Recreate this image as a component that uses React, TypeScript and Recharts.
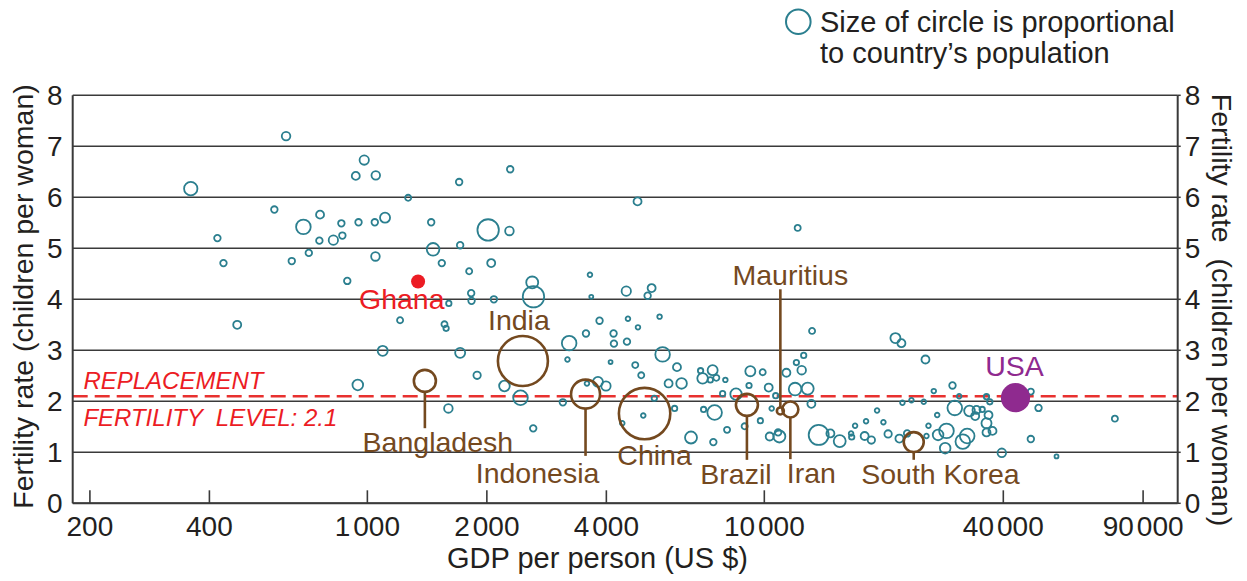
import React from 'react';
import { ScatterChart, Scatter, XAxis, YAxis, ZAxis, CartesianGrid, ReferenceLine } from 'recharts';

const W = 1247;
const H = 581;

// ---- Countries (teal bubbles): GDP per person (US$), fertility rate, population (millions)
const gdpPerPerson = [
  359, 624, 583, 419, 434, 690, 760, 645, 712, 757,
  821, 860, 865, 950, 982, 935, 1050, 1044, 1108, 1048,
  1267, 890, 470, 1209, 1093, 946, 1703, 2290, 4793, 1448,
  2015, 2280, 1464, 1713, 1540, 2051, 1805, 12135, 2602, 2621,
  1826, 1830, 2083, 1604, 3637, 3665, 4490, 5201, 5082, 5447,
  3845, 4534, 4805, 13192, 1564, 1579, 3554, 4171, 4180, 4508,
  3224, 1713, 5543, 3192, 4099, 4730, 6025, 4897, 1890, 2215,
  2431, 3810, 3991, 3574, 5739, 6188, 3108, 5283, 1600, 5943,
  4955, 4387, 2617, 6536, 7440, 6910, 7410, 6991, 7311, 7570,
  7977, 7852, 8487, 9221, 9906, 9151, 10257, 10682, 11366, 12044,
  12566, 12421, 11953, 12861, 13139, 7031, 7496, 8056, 8921, 9775,
  10437, 10317, 10913, 10831, 13708, 14671, 15486, 16542, 16600, 16930,
  17896, 18042, 18606, 19233, 19954, 20506, 21394, 22152, 21896, 22281,
  22898, 23476, 25216, 25466, 25914, 25615, 26725, 27258, 27400, 28770,
  28553, 29788, 30188, 30968, 31622, 32440, 32876, 33982, 34239, 35390,
  36284, 36986, 36708, 36284, 36284, 37568, 39654, 46922, 49066, 46922,
  54462, 76406,
];
const fertilityRate = [
  6.17, 7.2, 5.76, 5.2, 4.71, 5.42, 5.66, 4.75, 4.91, 5.15,
  5.16, 5.49, 5.25, 5.51, 6.73, 6.42, 6.43, 5.51, 5.6, 4.84,
  5.99, 4.36, 3.5, 3.59, 2.99, 2.32, 6.3, 6.55, 5.92, 5.51,
  5.36, 5.34, 4.98, 5.06, 4.71, 4.71, 4.55, 5.4, 4.33, 4.05,
  4.12, 3.97, 4.0, 3.92, 4.48, 4.05, 4.16, 4.22, 4.07, 3.66,
  3.58, 3.62, 3.45, 3.38, 3.51, 3.43, 3.33, 3.33, 3.13, 3.17,
  3.14, 2.95, 2.92, 2.82, 2.77, 2.71, 2.67, 2.51, 2.51, 2.3,
  2.07, 2.38, 2.3, 2.35, 2.35, 2.35, 1.98, 2.06, 1.86, 1.86,
  1.72, 1.57, 1.47, 1.29, 1.2, 2.6, 2.61, 2.45, 2.42, 2.46,
  2.42, 2.15, 2.14, 2.59, 2.57, 2.31, 2.27, 2.11, 2.56, 2.76,
  2.9, 2.61, 2.24, 2.25, 1.95, 1.84, 1.78, 1.44, 1.51, 1.62,
  1.86, 1.31, 1.31, 1.39, 1.34, 1.37, 1.22, 1.37, 1.3, 1.52,
  1.32, 1.61, 1.24, 1.82, 1.59, 1.36, 3.24, 3.14, 1.27, 1.97,
  1.37, 2.02, 1.99, 2.82, 1.52, 1.32, 2.2, 1.73, 1.34, 1.42,
  1.08, 2.31, 1.87, 2.1, 1.21, 1.32, 1.81, 1.71, 1.83, 1.84,
  2.09, 1.99, 1.73, 1.57, 1.39, 1.42, 0.99, 2.19, 1.87, 1.26,
  0.92, 1.66,
];
const populationM = [
  92, 38, 22, 22, 22, 110, 33, 22, 22, 22,
  45, 22, 22, 22, 45, 33, 38, 22, 52, 38,
  19, 22, 33, 19, 52, 58, 22, 22, 33, 22,
  236, 38, 82, 22, 22, 33, 19, 19, 74, 236,
  22, 22, 22, 15, 11, 8, 45, 33, 22, 11,
  22, 11, 11, 19, 19, 15, 22, 22, 22, 22,
  110, 52, 110, 11, 8, 19, 33, 19, 28, 58,
  110, 52, 45, 11, 33, 58, 22, 15, 38, 15,
  11, 11, 22, 74, 22, 15, 52, 58, 15, 19,
  11, 15, 67, 52, 19, 15, 33, 15, 33, 15,
  15, 38, 82, 74, 33, 15, 110, 19, 19, 15,
  11, 33, 74, 22, 206, 33, 74, 11, 15, 11,
  33, 11, 28, 11, 11, 28, 52, 33, 33, 11,
  22, 11, 11, 33, 11, 11, 11, 11, 58, 110,
  58, 22, 110, 11, 110, 110, 58, 33, 33, 15,
  15, 15, 33, 52, 33, 33, 38, 19, 22, 22,
  8, 19,
];

// ---- Highlighted countries
const hlNames = ['India', 'Bangladesh', 'Indonesia', 'China', 'Brazil', 'Iran', 'Mauritius', 'South Korea'];
const hlGdp = [2465, 1396, 3545, 4993, 9040, 11630, 10975, 23790];
const hlFertility = [2.79, 2.4, 2.14, 1.76, 1.93, 1.84, 1.81, 1.2];
const hlPopulationM = [1287, 250, 433, 1360, 250, 132, 25, 206];

const ghanaName = ['Ghana'];
const ghanaGdp = [1342];
const ghanaFertility = [4.35];
const ghanaPopulationM = [101];

const usaName = ['USA'];
const usaGdp = [42930];
const usaFertility = [2.07];
const usaPopulationM = [440];

// ---- Axes
const xTicks = [200, 400, 1000, 2000, 4000, 10000, 40000, 90000];
const xTickLabels = ['200', '400', '1 000', '2 000', '4 000', '10 000', '40 000', '90 000'];
const yTicks = [0, 1, 2, 3, 4, 5, 6, 7, 8];
const replacementLevel = 2.1;

const bubbles = gdpPerPerson.map((g, i) => ({ gdp: g, fert: fertilityRate[i], pop: populationM[i] }));
const highlighted = hlNames.map((n, i) => ({ name: n, gdp: hlGdp[i], fert: hlFertility[i], pop: hlPopulationM[i] }));
const ghana = ghanaName.map((n, i) => ({ name: n, gdp: ghanaGdp[i], fert: ghanaFertility[i], pop: ghanaPopulationM[i] }));
const usa = usaName.map((n, i) => ({ name: n, gdp: usaGdp[i], fert: usaFertility[i], pop: usaPopulationM[i] }));

// ---- Styles
const FONT = '"Liberation Sans", Arial, Helvetica, sans-serif';
const TEAL = '#2b7f8f';
const BROWN = '#74491f';
const RED = '#ec1c24';
const DASH_RED = '#e8312f';
const PURPLE = '#8f2a8f';
const TXT = '#231f20';
const GRID = '#3a3a3a';
const AREA_PER_MILLION = Math.PI / 2.06;

// annotation placement (offsets from bubble centre)
const annotations: Record<string, { dx: number; dy: number; stem?: number }> = {
  India: { dx: -4, dy: -31 },
  Bangladesh: { dx: 13, dy: 70.7, stem: 47.3 },
  Indonesia: { dx: -48, dy: 89, stem: 61.7 },
  China: { dx: 10, dy: 51.7 },
  Brazil: { dx: -11, dy: 79.3, stem: 55 },
  Iran: { dx: 21, dy: 74, stem: 49.7 },
  Mauritius: { dx: 10, dy: -126, stem: -121.7 },
  'South Korea': { dx: 26.7, dy: 42, stem: 17.7 },
  Ghana: { dx: -16.3, dy: 27.3 },
  USA: { dx: -1, dy: -21.7 },
};

const makeAnnotated = (color: string, filled: boolean) => (props: any) => {
  const { cx, cy, payload } = props;
  const size = props.size;
  const r = size ? Math.sqrt(size / Math.PI) : (props.width || 0) / 2;
  const a = annotations[payload.name] || { dx: 0, dy: 0 };
  return (
    <g>
      {a.stem !== undefined && (
        <line
          x1={cx}
          x2={cx}
          y1={cy + (a.stem > 0 ? r : -r)}
          y2={cy + a.stem}
          stroke={color}
          strokeWidth={2.6}
        />
      )}
      <circle
        cx={cx}
        cy={cy}
        r={r}
        fill={filled ? color : 'none'}
        stroke={filled ? 'none' : color}
        strokeWidth={2.6}
      />
      <text x={cx + a.dx} y={cy + a.dy} textAnchor="middle" fontSize={28.5} fontFamily={FONT} fill={color}>
        {payload.name}
      </text>
    </g>
  );
};

const XTick = (props: any) => {
  const { x, y, payload } = props;
  const idx = xTicks.indexOf(payload.value);
  const label = idx >= 0 ? xTickLabels[idx] : String(payload.value);
  const parts = label.split(' ');
  return (
    <g>
      <line x1={x} x2={x} y1={y} y2={y - 13} stroke={GRID} strokeWidth={1.6} />
      <text x={x} y={y + 33} textAnchor="middle" fontSize={28} fontFamily={FONT} fill={TXT}>
        {parts[0]}
        {parts[1] !== undefined && <tspan dx={3}>{parts[1]}</tspan>}
      </text>
    </g>
  );
};

const ReplacementLabel = (props: any) => {
  const vb = props.viewBox || { x: 0, y: 0 };
  return (
    <g fontFamily={FONT} fontStyle="italic" fontSize={24} fill={RED}>
      <text x={vb.x + 10.7} y={vb.y - 6.9}>REPLACEMENT</text>
      <text x={vb.x + 10.7} y={vb.y + 29.8} style={{ whiteSpace: 'pre' }}>
        {'FERTILITY  LEVEL: ' + replacementLevel}
      </text>
    </g>
  );
};

export default function App() {
  return (
    <div style={{ position: 'absolute', left: 0, top: 0, width: W, height: H, background: '#fff' }}>
      <ScatterChart
        width={W}
        height={H}
        margin={{ top: 95.3, right: 0, bottom: 0, left: 0 }}
        style={{ fontFamily: FONT }}
      >
        <CartesianGrid horizontal vertical={false} stroke={GRID} strokeWidth={1.5} />
        <XAxis
          dataKey="gdp"
          type="number"
          scale="log"
          domain={[181, 110000]}
          allowDataOverflow
          ticks={xTicks}
          interval={0}
          height={77.7}
          tickLine={false}
          tickSize={0}
          tickMargin={0}
          axisLine={{ stroke: GRID, strokeWidth: 2 }}
          tick={<XTick />}
        />
        <YAxis
          dataKey="fert"
          type="number"
          domain={[0, 8]}
          ticks={yTicks}
          interval={0}
          width={72.7}
          tickLine={false}
          tickSize={0}
          tickMargin={10}
          axisLine={{ stroke: GRID, strokeWidth: 2 }}
          tick={{ fontSize: 28, fill: TXT, fontFamily: FONT }}
        />
        <YAxis
          yAxisId="right"
          dataKey="fert"
          orientation="right"
          type="number"
          domain={[0, 8]}
          ticks={yTicks}
          interval={0}
          width={69.3}
          tickSize={3}
          tickMargin={4}
          tickLine={{ stroke: GRID, strokeWidth: 1.5 }}
          axisLine={{ stroke: GRID, strokeWidth: 2 }}
          tick={{ fontSize: 28, fill: TXT, fontFamily: FONT }}
        />
        <ZAxis dataKey="pop" type="number" domain={[0, 1400]} range={[0, 1400 * AREA_PER_MILLION]} />
        <ReferenceLine
          y={replacementLevel}
          stroke={DASH_RED}
          strokeWidth={2.6}
          strokeDasharray="15 7"
          label={<ReplacementLabel />}
        />
        <Scatter
          data={bubbles}
          fill="none"
          stroke={TEAL}
          strokeWidth={1.8}
          shape="circle"
          isAnimationActive={false}
        />
        <Scatter data={highlighted} shape={makeAnnotated(BROWN, false)} isAnimationActive={false} />
        <Scatter data={ghana} shape={makeAnnotated(RED, true)} isAnimationActive={false} />
        <Scatter yAxisId="right" data={usa} shape={makeAnnotated(PURPLE, true)} isAnimationActive={false} />
      </ScatterChart>
      <svg
        width={W}
        height={H}
        style={{ position: 'absolute', left: 0, top: 0, pointerEvents: 'none' }}
        fontFamily={FONT}
      >
        <text x={33} y={296.5} transform="rotate(-90 33 296.5)" textAnchor="middle" fontSize={28.5} fill={TXT}>
          Fertility rate (children per woman)
        </text>
        <text
          x={1211.7}
          y={310}
          transform="rotate(90 1211.7 310)"
          textAnchor="middle"
          fontSize={28.5}
          fill={TXT}
          style={{ whiteSpace: 'pre' }}
        >
          {'Fertility rate  (children per woman)'}
        </text>
        <text x={597.5} y={568.3} textAnchor="middle" fontSize={29} fill={TXT}>
          GDP per person (US $)
        </text>
        <circle cx={798.3} cy={21.7} r={12.3} fill="none" stroke={TEAL} strokeWidth={2} />
        <text x={820} y={31.7} fontSize={29} fill={TXT}>
          Size of circle is proportional
        </text>
        <text x={820} y={62.7} fontSize={29} fill={TXT}>
          to country’s population
        </text>
      </svg>
    </div>
  );
}
